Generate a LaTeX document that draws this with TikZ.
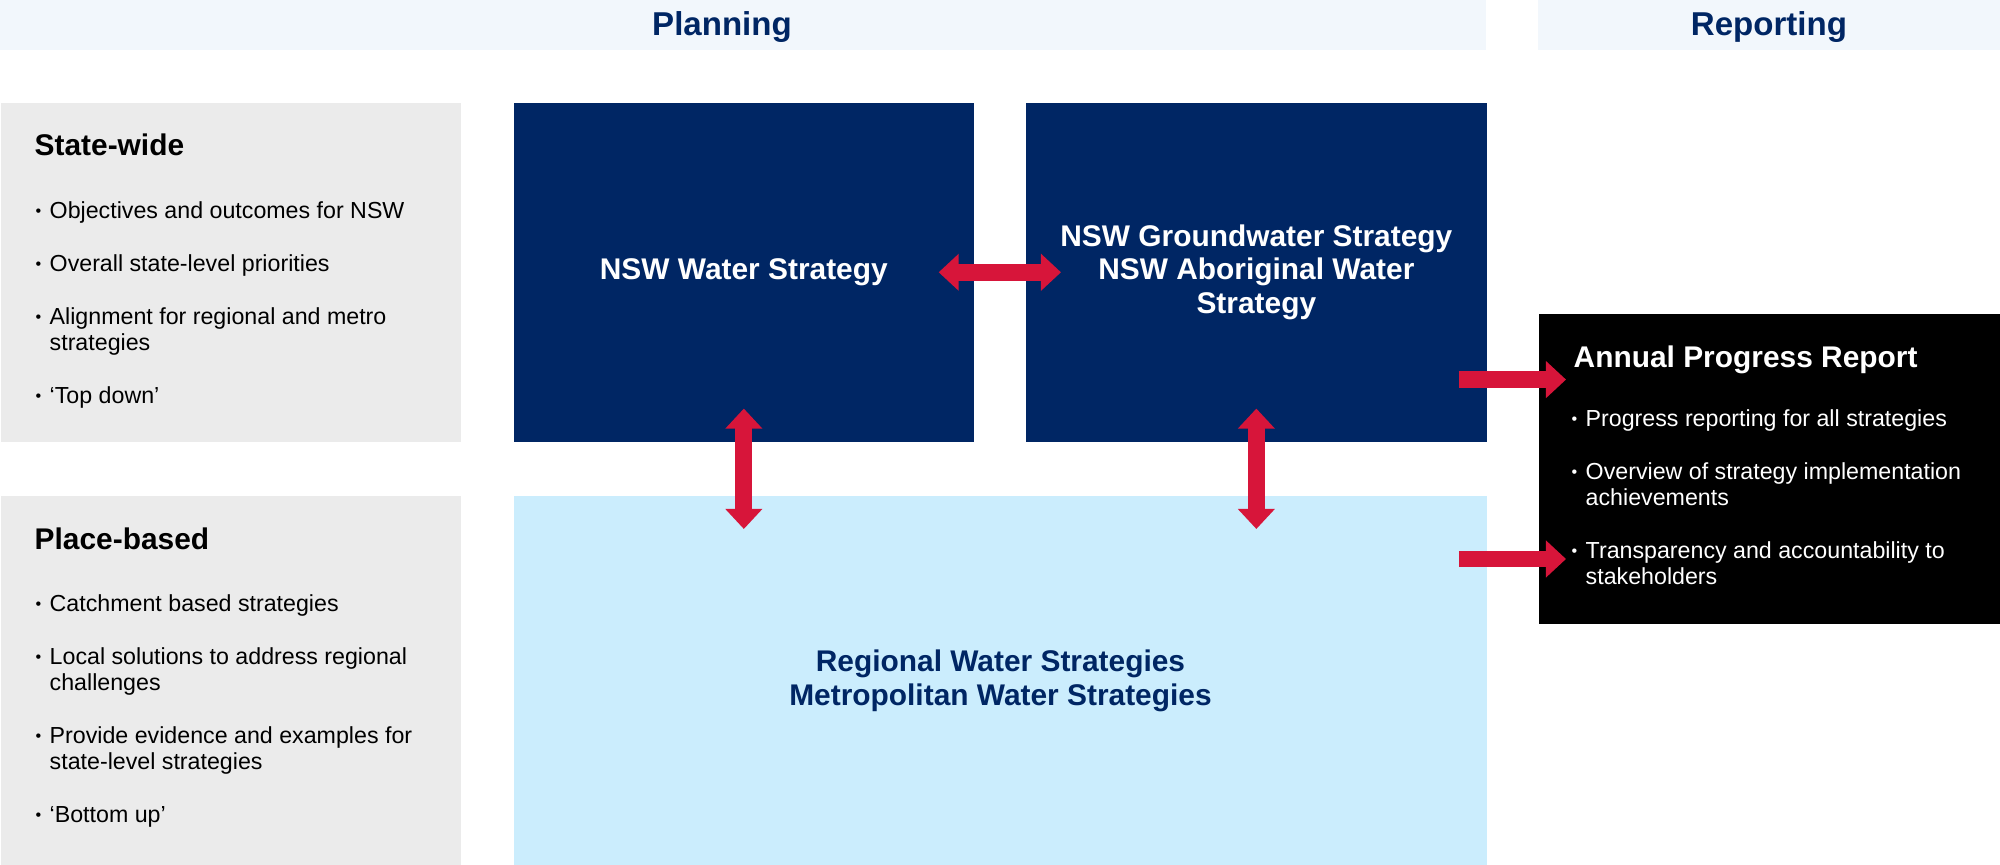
\documentclass[tikz,border=0pt]{standalone}
\usepackage{fontspec}
\setmainfont{Liberation Sans}
\usetikzlibrary{arrows.meta,calc}

\definecolor{nswnavy}{HTML}{002664}
\definecolor{nswred}{HTML}{D7153A}
\definecolor{nswsky}{HTML}{CBEDFD}
\definecolor{panelgrey}{HTML}{EBEBEB}
\definecolor{bandblue}{HTML}{F2F7FC}

\newcommand{\blt}{\llap{\raisebox{0.6pt}{\fontsize{4.6pt}{5pt}\selectfont\textbullet}\hspace{2.4pt}}}

\tikzset{
  panel/.style={fill=panelgrey, inner sep=0pt, anchor=north west},
  darkbox/.style={fill=nswnavy, text=white, inner sep=0pt, anchor=north west, align=center,
    font=\fontsize{8.5pt}{9.6pt}\selectfont\bfseries},
  skybox/.style={fill=nswsky, text=nswnavy, inner sep=0pt, anchor=north west, align=center,
    font=\fontsize{8.5pt}{9.6pt}\selectfont\bfseries},
  reportbox/.style={fill=black, inner sep=0pt, anchor=north west},
  bandlabel/.style={text=nswnavy, anchor=base, inner sep=0pt, font=\fontsize{9.4pt}{11pt}\selectfont\bfseries},
  heading/.style={anchor=base west, inner sep=0pt, font=\fontsize{8.5pt}{10pt}\selectfont\bfseries},
  item/.style={anchor=base west, inner sep=0pt, font=\fontsize{6.6pt}{7.7pt}\selectfont},
  twoway/.style={draw=nswred, line width=4.8pt, >={Triangle[length=5.7pt,width=10.2pt]}, <->},
  oneway/.style={draw=nswred, line width=4.8pt, >={Triangle[length=5.7pt,width=10.2pt]}, ->}
}

\begin{document}
\begin{tikzpicture}[x=0.01cm, y=-0.01cm]
\useasboundingbox (0, 0) rectangle (2000, 865);

\fill [bandblue] (0, 0) rectangle (1486, 50);
\fill [bandblue] (1538, 0) rectangle (2000, 50);
\node (planning) [bandlabel] at (722, 36) {Planning};
\node (reporting) [bandlabel] at (1769, 36) {Reporting};

\node (statewide) [panel, minimum width=4.6cm, minimum height=3.39cm] at (0, 102) {};
\node (sw-head) [heading] at (34, 156) {State-wide};
\node (sw-a) [item] at (49, 219) {\blt Objectives and outcomes for NSW};
\node (sw-b) [item] at (49, 272) {\blt Overall state-level priorities};
\node (sw-c) [item] at (49, 325) {\blt Alignment for regional and metro};
\node (sw-c2) [item] at (49, 351) {strategies};
\node (sw-d) [item] at (49, 404) {\blt ‘Top down’};

\node (placebased) [panel, minimum width=4.6cm, minimum height=3.7cm] at (0, 495) {};
\node (pb-head) [heading] at (34, 550) {Place-based};
\node (pb-a) [item] at (49, 612) {\blt Catchment based strategies};
\node (pb-b) [item] at (49, 665) {\blt Local solutions to address regional};
\node (pb-b2) [item] at (49, 691) {challenges};
\node (pb-c) [item] at (49, 744) {\blt Provide evidence and examples for};
\node (pb-c2) [item] at (49, 770) {state-level strategies};
\node (pb-d) [item] at (49, 823) {\blt ‘Bottom up’};

\node (nsw) [darkbox, minimum width=4.6cm, minimum height=3.39cm] at (513, 102) {NSW Water Strategy};
\node (gw) [darkbox, minimum width=4.61cm, minimum height=3.39cm] at (1025, 102)
  {NSW Groundwater Strategy\\NSW Aboriginal Water\\Strategy};
\node (reg) [skybox, minimum width=9.73cm, minimum height=3.7cm] at (513, 495)
  {Regional Water Strategies\\Metropolitan Water Strategies};

\node (annual) [reportbox, minimum width=4.62cm, minimum height=3.1cm] at (1538, 313) {};
\node (ap-head) [heading, text=white] at (1573, 368) {Annual Progress Report};
\node (ap-a) [item, text=white] at (1585, 427) {\blt Progress reporting for all strategies};
\node (ap-b) [item, text=white] at (1585, 480) {\blt Overview of strategy implementation};
\node (ap-b2) [item, text=white] at (1585, 506) {achievements};
\node (ap-c) [item, text=white] at (1585, 559) {\blt Transparency and accountability to};
\node (ap-c2) [item, text=white] at (1585, 585) {stakeholders};

\draw [twoway] ($(nsw.east)+(-36, 0)$) -- ($(gw.west)+(36, 0)$);
\draw [twoway] ($(nsw.south)+(0, -34)$) -- ($(nsw.south |- reg.north)+(0, 34)$);
\draw [twoway] ($(gw.south)+(0, -34)$) -- ($(gw.south |- reg.north)+(0, 34)$);

\coordinate (out-gw) at ($(gw.south east)+(-29, -63)$);
\coordinate (out-reg) at ($(reg.north east)+(-29, 64)$);
\draw [oneway] (out-gw) -- ($(out-gw -| annual.west)+(28, 0)$);
\draw [oneway] (out-reg) -- ($(out-reg -| annual.west)+(28, 0)$);
\end{tikzpicture}
\end{document}
